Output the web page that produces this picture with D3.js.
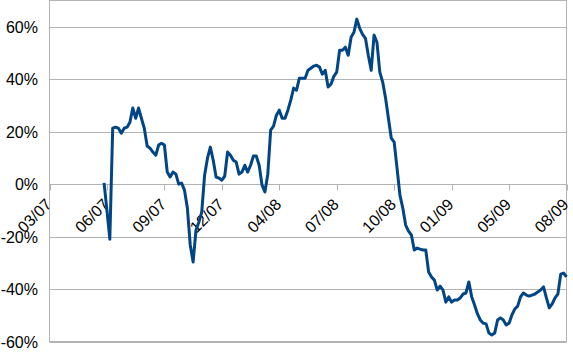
<!DOCTYPE html>
<html>
<head>
<meta charset="utf-8">
<script src="https://cdn.jsdelivr.net/npm/d3@7"></script>
<style>
  body { margin: 0; background: #fff; }
  svg { display: block; }
</style>
</head>
<body>
<script>
// chart size
const width = 573;
const height = 352;

// x axis labels (one every 20 points)
const dateLabels = ["03/07", "06/07", "09/07", "12/07", "04/08", "07/08", "10/08", "01/09", "05/09", "08/09"];
const pointsPerLabel = 20;

// y axis ticks, in %
const yTicks = [-60, -40, -20, 0, 20, 40, 60];

// the series begins at point 19
const startIndex = 19;
// performance in %, one value per point
const values = [
  0.5, -10, -21, 21.3, 21.7, 21.3, 19.4, 21.3, 21.7, 23.6,
  29, 25.1, 29, 25.1, 21.3, 14.5, 13.7, 12.2, 11, 14.9,
  15.6, 14.9, 4.6, 2.7, 4.6, 3.8, 0, 0.4, -2.3, -9.1,
  -23.2, -29.7, -17.5, -14.5, -10.7, 3.4, 9.9, 14.1, 9.1, 2.7,
  2.3, 1.5, 3, 12.2, 11, 9.1, 8.4, 3.8, 4.6, 7.2,
  4.6, 7.2, 10.7, 10.7, 7.2, -0.4, -3, 3.8, 20.6, 22.1,
  26.3, 28.2, 25.1, 25.1, 28.2, 32, 36.6, 35.8, 40.4, 40.4,
  40.4, 43.4, 44.2, 45, 45.3, 44.6, 41.9, 43.4, 37, 38.1,
  41.1, 42.7, 51, 51, 52.2, 49.1, 56, 57.9, 62.9, 59.4,
  57.1, 55.6, 49.1, 43.4, 56.8, 54.1, 42.7, 38.9, 32.8, 25.1,
  17.5, 16, 6.1, -4.2, -9.1, -15.6, -17.9, -19.4, -25.1, -24.4,
  -24.8, -25.1, -25.1, -33.5, -35.4, -36.6, -40.4, -38.9, -40.4, -45,
  -43, -45, -44.2, -44.2, -43.4, -41.9, -41.5, -37.3, -43, -46.1,
  -49.5, -51.8, -53, -53.3, -56.8, -57.5, -56.8, -51.8, -51, -51.8,
  -53.7, -53, -49.9, -47.6, -46.5, -43, -41.5, -42.3, -42.7, -42.3,
  -41.9, -41.1, -40.4, -39.2, -43.4, -47.2, -45.7, -43.4, -41.9, -34.3,
  -33.9, -35.4
];

const lastIndex = pointsPerLabel * (dateLabels.length - 1);

// plot area
const plotLeft = 49.5, plotRight = 566.5, plotTop = 0.5, plotBottom = 341.5;

const x = d3.scaleLinear().domain([0, lastIndex]).range([plotLeft, plotRight]);
const y = d3.scaleLinear().domain([-60, 70]).range([plotBottom, plotTop]);

const svg = d3.select("body").append("svg")
  .attr("width", width)
  .attr("height", height)
  .style("font-family", "'Liberation Sans', Arial, sans-serif");

const gridColor = "#b3b3b3";

// horizontal grid lines
svg.append("g").selectAll("line")
  .data(yTicks)
  .enter().append("line")
  .attr("x1", plotLeft).attr("x2", plotRight)
  .attr("y1", d => Math.round(y(d)) + 0.5)
  .attr("y2", d => Math.round(y(d)) + 0.5)
  .attr("stroke", gridColor);

// frame of the plot area
svg.append("rect")
  .attr("x", plotLeft).attr("y", plotTop)
  .attr("width", plotRight - plotLeft).attr("height", plotBottom - plotTop)
  .attr("fill", "none")
  .attr("stroke", gridColor);

// y labels
svg.append("g").selectAll("text")
  .data(yTicks)
  .enter().append("text")
  .attr("x", 38)
  .attr("y", d => y(d) + 6)
  .attr("text-anchor", "end")
  .attr("font-size", 16)
  .attr("fill", "#000")
  .text(d => d + "%");

// x ticks on the 0% line
const y0 = Math.round(y(0)) + 0.5;
svg.append("g").selectAll("line")
  .data(dateLabels)
  .enter().append("line")
  .attr("x1", (d, i) => Math.round(x(i * pointsPerLabel)) + 0.5)
  .attr("x2", (d, i) => Math.round(x(i * pointsPerLabel)) + 0.5)
  .attr("y1", y0).attr("y2", y0 + 6)
  .attr("stroke", gridColor);

// x labels, rotated
svg.append("g").selectAll("text")
  .data(dateLabels)
  .enter().append("text")
  .attr("transform", (d, i) => `translate(${x(i * pointsPerLabel) + 3},${y0 + 21}) rotate(-45)`)
  .attr("text-anchor", "end")
  .attr("font-size", 16)
  .attr("fill", "#000")
  .text(d => d);

// the series
const line = d3.line()
  .x((d, i) => x(startIndex + i))
  .y(d => y(d));

svg.append("path")
  .datum(values)
  .attr("d", line)
  .attr("fill", "none")
  .attr("stroke", "#004586")
  .attr("stroke-width", 3)
  .attr("stroke-linejoin", "round");
</script>
</body>
</html>
